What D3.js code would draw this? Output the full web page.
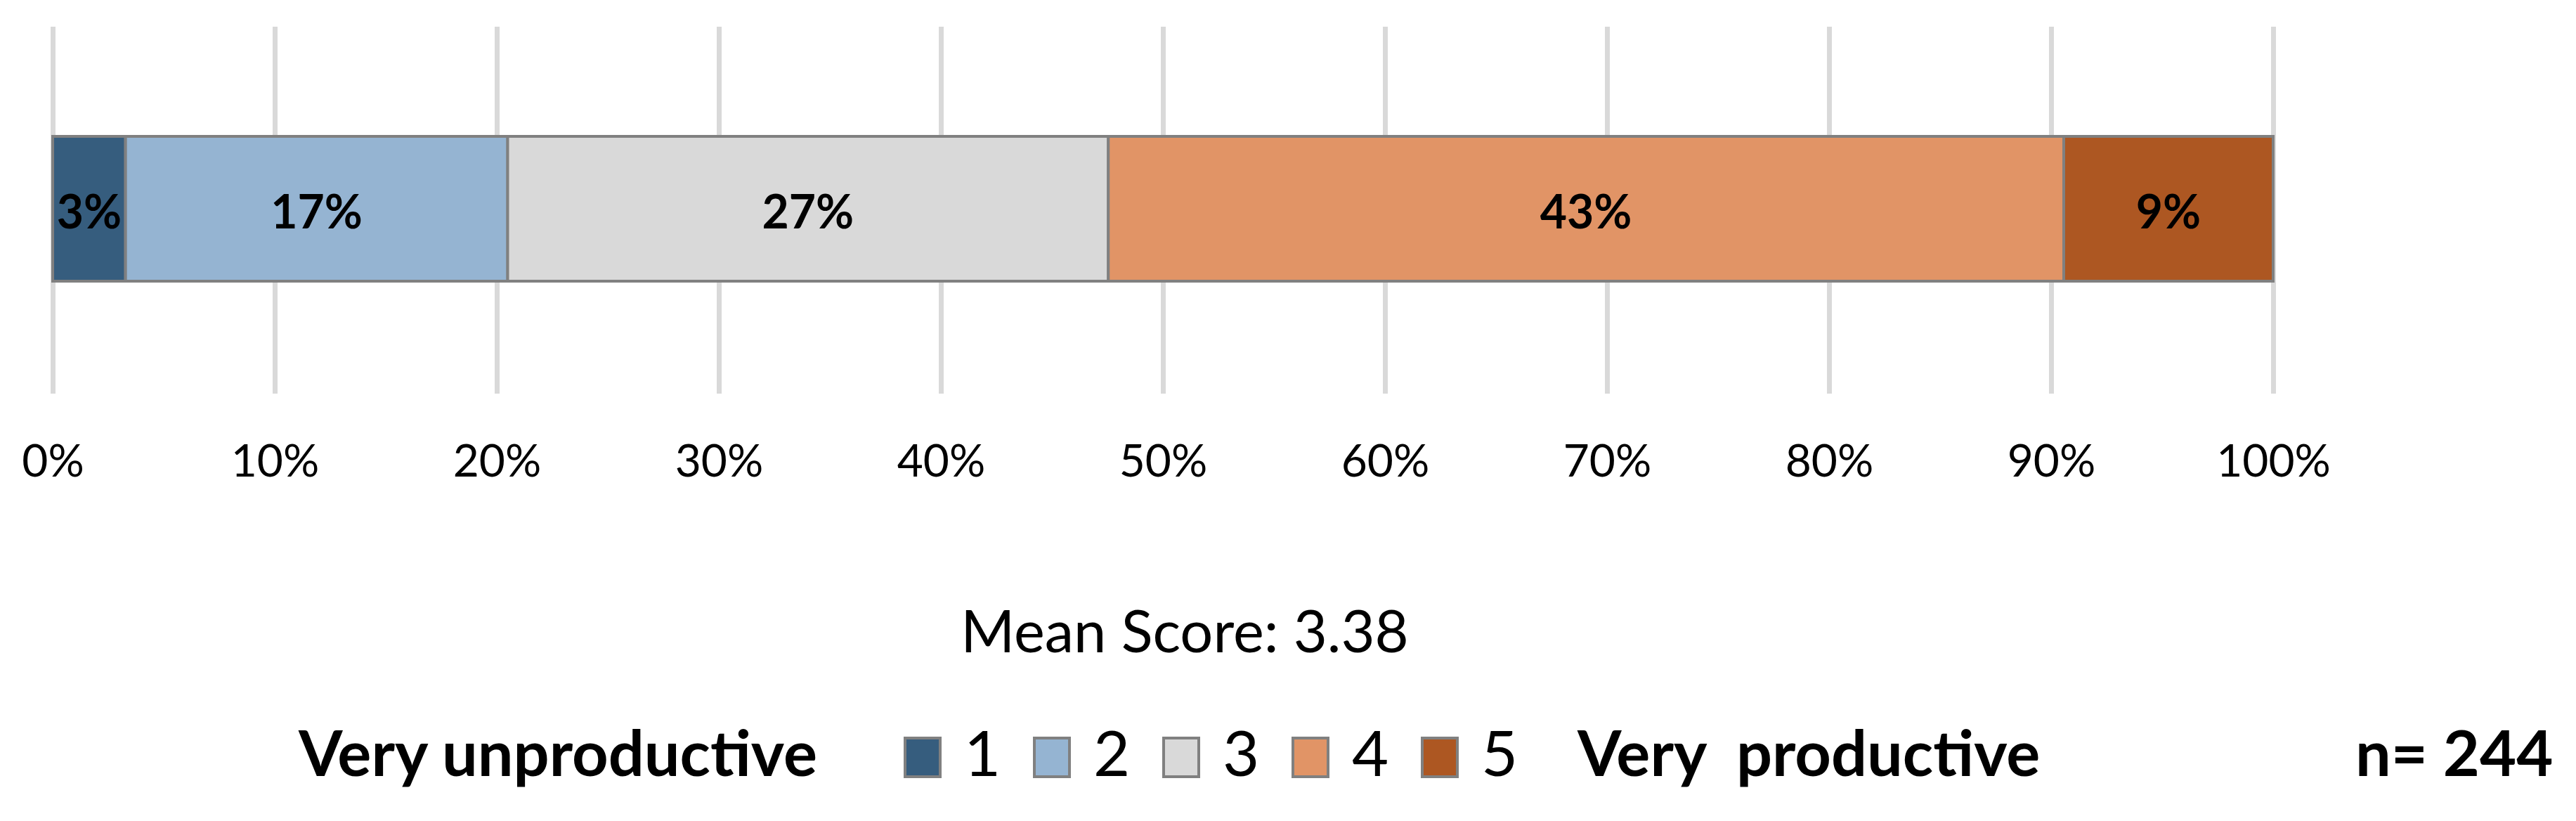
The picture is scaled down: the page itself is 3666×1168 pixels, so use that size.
<!DOCTYPE html>
<html>
<head>
<meta charset="utf-8">
<script src="https://cdn.jsdelivr.net/npm/d3@7"></script>
<style>
  html, body { margin: 0; padding: 0; background: #fff; }
  svg { display: block; }
  text { font-family: Lato, "Open Sans", sans-serif; fill: #000; }
</style>
</head>
<body>
<svg id="chart" width="3666" height="1168"></svg>
<script>
// ---- data ----
const categories = ["1", "2", "3", "4", "5"];
const percents = [3.28, 17.21, 27.05, 43.03, 9.43];
const segmentLabels = ["3%", "17%", "27%", "43%", "9%"];
const colors = ["#365D7E", "#95B4D2", "#D9D9D9", "#E19466", "#AD5722"];
const tickValues = [0, 10, 20, 30, 40, 50, 60, 70, 80, 90, 100];
const leftLabel = "Very unproductive";
const rightLabel = "Very\u00A0\u00A0productive";
const meanText = "Mean Score: 3.38";
const nText = "n= 244";

// ---- layout ----
const W = 3666, H = 1168;
const svg = d3.select("#chart");
const x = d3.scaleLinear().domain([0, 100]).range([75, 3235]);
const gridTop = 38, gridBottom = 560;
const barTop = 194, barBottom = 400;

// gridlines + tick labels through a d3 axis
const axis = d3.axisBottom(x)
  .tickValues(tickValues)
  .tickFormat(d => d + "%")
  .tickSize(gridBottom - gridTop);
const gAxis = svg.append("g").attr("transform", `translate(0,${gridTop})`).call(axis);
gAxis.select(".domain").remove();
gAxis.selectAll(".tick line").attr("stroke", "#D9D9D9").attr("stroke-width", 7);
gAxis.selectAll(".tick text")
  .attr("y", 678 - gridTop).attr("dy", 0)
  .style("font-size", "64px").style("fill", "#000");

// stacked bar
let acc = 0;
const segs = percents.map((v, i) => {
  const s = { start: acc, end: acc + v, color: colors[i], label: segmentLabels[i] };
  acc += v;
  return s;
});
const gBar = svg.append("g");
gBar.selectAll("rect").data(segs).join("rect")
  .attr("x", d => x(d.start))
  .attr("width", d => x(d.end) - x(d.start))
  .attr("y", barTop)
  .attr("height", barBottom - barTop)
  .attr("fill", d => d.color)
  .attr("stroke", "#808080")
  .attr("stroke-width", 4);
gBar.selectAll("text").data(segs).join("text")
  .attr("x", d => (x(d.start) + x(d.end)) / 2)
  .attr("y", 325)
  .attr("text-anchor", "middle")
  .style("font-size", "66px")
  .style("font-weight", "bold")
  .text(d => d.label);

// mean score
svg.append("text")
  .attr("x", 1686).attr("y", 928)
  .attr("text-anchor", "middle")
  .style("font-size", "83px")
  .text(meanText);

// legend
const legendY = 1104;
svg.append("text")
  .attr("x", 425).attr("y", legendY)
  .style("font-size", "90px").style("font-weight", "bold")
  .text(leftLabel);
const lg = svg.append("g").selectAll("g").data(categories).join("g")
  .attr("transform", (d, i) => `translate(${1288 + i * 184},0)`);
lg.append("rect")
  .attr("x", 0).attr("y", 1050).attr("width", 50).attr("height", 55)
  .attr("fill", (d, i) => colors[i])
  .attr("stroke", "#808080").attr("stroke-width", 4);
lg.append("text")
  .attr("x", 84).attr("y", legendY)
  .style("font-size", "90px")
  .text(d => d);
svg.append("text")
  .attr("x", 2245).attr("y", legendY)
  .style("font-size", "90px").style("font-weight", "bold")
  .text(rightLabel);
svg.append("text")
  .attr("x", 3352).attr("y", legendY)
  .style("font-size", "90px").style("font-weight", "bold")
  .text(nText);
</script>
</body>
</html>
